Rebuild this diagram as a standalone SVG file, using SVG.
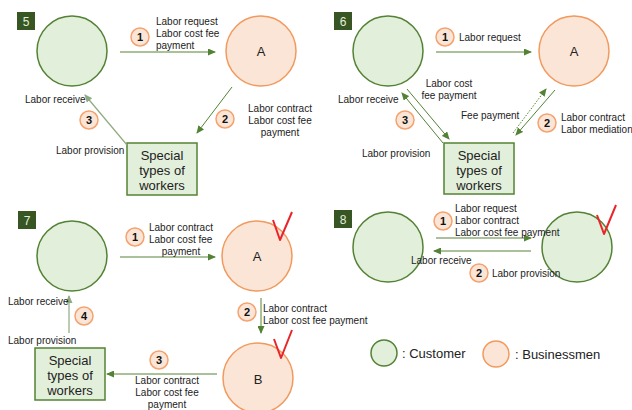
<svg xmlns="http://www.w3.org/2000/svg" width="632" height="410" viewBox="0 0 632 410">
<defs>
<marker id="ah" markerUnits="userSpaceOnUse" markerWidth="8" markerHeight="7" refX="7" refY="3.5" orient="auto"><path d="M0,0 L8,3.5 L0,7 z" fill="#548235"/></marker>
<marker id="ahl" markerUnits="userSpaceOnUse" markerWidth="8" markerHeight="7" refX="7" refY="3.5" orient="auto"><path d="M0,0 L8,3.5 L0,7 z" fill="#8faa80"/></marker>
<style>
text{font-family:"Liberation Sans",Arial,sans-serif;fill:#222}
.t{font-size:10px}
.tm{font-size:10px;text-anchor:middle}
.box{fill:#e2efda;stroke:#548235;stroke-width:1.5}
.bt{font-size:13px;text-anchor:middle}
.cust{fill:#e2efda;stroke:#548235;stroke-width:1.5}
.biz{fill:#fbe5d6;stroke:#f19a5f;stroke-width:1.5}
.nl{font-size:13px;text-anchor:middle}
.badge{fill:#375623}
.bn{font-size:12px;fill:#e2efda;text-anchor:middle}
.num{fill:#fbe5d6;stroke:#f4a36f;stroke-width:1.5}
.nt{font-size:11px;font-weight:bold;text-anchor:middle;fill:#111}
.ln{stroke:#548235;stroke-width:1;fill:none}
.ll{stroke:#8faa80;stroke-width:1.2;fill:none}
.dot{stroke:#548235;stroke-width:1;stroke-dasharray:1.5 1.5;fill:none}
.chk{stroke:#e8262a;stroke-width:2;fill:none;stroke-linejoin:round}
.lg{font-size:13px}
</style>
</defs>
<rect width="632" height="410" fill="#fff"/>

<!-- Panel 5 -->
<g id="p5-badge"><rect class="badge" x="17" y="12" width="18" height="18"/><text class="bn" x="26" y="25.5">5</text></g>
<g id="p5-customer"><circle class="cust" cx="72" cy="51" r="35"/></g>
<g id="p5-A"><circle class="biz" cx="261" cy="51" r="35"/><text class="nl" x="261" y="56">A</text></g>
<g id="p5-workers"><rect class="box" x="127" y="143" width="70" height="52"/><text class="bt" x="162" y="160">Special</text><text class="bt" x="162" y="175">types of</text><text class="bt" x="162" y="190">workers</text></g>
<g id="p5-connectors">
<line class="ln" x1="120" y1="52" x2="215" y2="52" marker-end="url(#ah)"/>
<line class="ln" x1="232" y1="87" x2="197" y2="133" marker-end="url(#ah)"/>
<line class="ll" x1="127" y1="145" x2="85" y2="95" marker-end="url(#ahl)"/>
</g>
<g id="p5-labels">
<circle class="num" cx="140" cy="37" r="9"/><text class="nt" x="140" y="41">1</text>
<text class="t" x="156" y="25">Labor request</text><text class="t" x="156" y="37">Labor cost fee</text><text class="t" x="156" y="49">payment</text>
<circle class="num" cx="225" cy="119" r="9"/><text class="nt" x="225" y="123">2</text>
<text class="tm" x="280" y="112">Labor contract</text><text class="tm" x="280" y="124">Labor cost fee</text><text class="tm" x="280" y="136">payment</text>
<circle class="num" cx="89" cy="120" r="9"/><text class="nt" x="89" y="124">3</text>
<text class="t" x="25" y="103">Labor receive</text>
<text class="t" x="56" y="154">Labor provision</text>
</g>

<!-- Panel 6 -->
<g id="p6-badge"><rect class="badge" x="334" y="12" width="18" height="18"/><text class="bn" x="343" y="25.5">6</text></g>
<g id="p6-customer"><circle class="cust" cx="388" cy="51" r="35"/></g>
<g id="p6-A"><circle class="biz" cx="574" cy="51" r="35"/><text class="nl" x="574" y="56">A</text></g>
<g id="p6-workers"><rect class="box" x="444" y="143" width="70" height="51"/><text class="bt" x="479" y="160">Special</text><text class="bt" x="479" y="175">types of</text><text class="bt" x="479" y="190">workers</text></g>
<g id="p6-connectors">
<line class="ln" x1="436" y1="52" x2="531" y2="52" marker-end="url(#ah)"/>
<line class="ln" x1="443" y1="143" x2="402" y2="93" marker-end="url(#ah)"/>
<line class="ln" x1="407" y1="89" x2="449" y2="139" marker-end="url(#ah)"/>
<line class="dot" x1="513" y1="133" x2="546" y2="89" marker-end="url(#ah)"/>
<line class="ln" x1="555" y1="90" x2="516" y2="135" marker-end="url(#ah)"/>
</g>
<g id="p6-labels">
<circle class="num" cx="445" cy="37" r="9"/><text class="nt" x="445" y="41">1</text>
<text class="t" x="459" y="41">Labor request</text>
<text class="tm" x="449" y="87">Labor cost</text><text class="tm" x="449" y="99">fee payment</text>
<text class="t" x="461" y="119">Fee payment</text>
<circle class="num" cx="547" cy="123" r="9"/><text class="nt" x="547" y="127">2</text>
<text class="t" x="561" y="121">Labor contract</text><text class="t" x="561" y="133">Labor mediation</text>
<circle class="num" cx="405" cy="120" r="9"/><text class="nt" x="405" y="124">3</text>
<text class="t" x="338" y="103">Labor receive</text>
<text class="t" x="362" y="157">Labor provision</text>
</g>

<!-- Panel 7 -->
<g id="p7-badge"><rect class="badge" x="18" y="211" width="18" height="18"/><text class="bn" x="27" y="224.5">7</text></g>
<g id="p7-customer"><circle class="cust" cx="72" cy="256" r="35"/></g>
<g id="p7-A"><circle class="biz" cx="257" cy="256" r="35"/><text class="nl" x="257" y="261">A</text><polyline class="chk" points="273,220 280,240 292,212"/></g>
<g id="p7-B"><circle class="biz" cx="258" cy="378" r="35"/><text class="nl" x="258" y="384">B</text><polyline class="chk" points="274,339 281,358 292,330"/></g>
<g id="p7-workers"><rect class="box" x="35" y="348" width="70" height="52"/><text class="bt" x="70" y="365">Special</text><text class="bt" x="70" y="380">types of</text><text class="bt" x="70" y="395">workers</text></g>
<g id="p7-connectors">
<line class="ln" x1="120" y1="257" x2="215" y2="257" marker-end="url(#ah)"/>
<line class="ln" x1="261" y1="298" x2="261" y2="333" marker-end="url(#ah)"/>
<line class="ln" x1="217" y1="374" x2="107" y2="374" marker-end="url(#ah)"/>
<line class="ll" x1="69" y1="333" x2="69" y2="296" marker-end="url(#ahl)"/>
</g>
<g id="p7-labels">
<circle class="num" cx="135" cy="237" r="9"/><text class="nt" x="135" y="241">1</text>
<text class="t" x="149" y="231">Labor contract</text><text class="t" x="149" y="243">Labor cost fee</text><text class="tm" x="181" y="255">payment</text>
<circle class="num" cx="247" cy="312" r="9"/><text class="nt" x="247" y="316">2</text>
<text class="t" x="263" y="312">Labor contract</text><text class="t" x="263" y="324">Labor cost fee payment</text>
<circle class="num" cx="159" cy="360" r="9"/><text class="nt" x="159" y="364">3</text>
<text class="tm" x="167" y="384">Labor contract</text><text class="tm" x="167" y="396">Labor cost fee</text><text class="tm" x="167" y="408">payment</text>
<circle class="num" cx="84" cy="316" r="9"/><text class="nt" x="84" y="320">4</text>
<text class="t" x="8" y="305">Labor receive</text>
<text class="t" x="8" y="344">Labor provision</text>
</g>

<!-- Panel 8 -->
<g id="p8-badge"><rect class="badge" x="334" y="210" width="18" height="18"/><text class="bn" x="343" y="223.5">8</text></g>
<g id="p8-customer1"><circle class="cust" cx="388" cy="247" r="35"/></g>
<g id="p8-customer2"><circle class="cust" cx="577" cy="247" r="35"/><polyline class="chk" points="597,215 604,234 616,205"/></g>
<g id="p8-connectors">
<line class="ln" x1="436" y1="238" x2="531" y2="238" marker-end="url(#ah)"/>
<line class="ln" x1="531" y1="251" x2="434" y2="251" marker-end="url(#ah)"/>
</g>
<g id="p8-labels">
<circle class="num" cx="443" cy="221" r="9"/><text class="nt" x="443" y="225">1</text>
<text class="t" x="455" y="212">Labor request</text><text class="t" x="455" y="224">Labor contract</text><text class="t" x="455" y="236">Labor cost fee payment</text>
<text class="t" x="411" y="264">Labor receive</text>
<circle class="num" cx="479" cy="273" r="9"/><text class="nt" x="479" y="277">2</text>
<text class="t" x="492" y="277">Labor provision</text>
</g>

<!-- Legend -->
<g id="legend-customer"><circle class="cust" cx="384" cy="353" r="13"/><text class="lg" x="402" y="358">: Customer</text></g>
<g id="legend-businessmen"><circle class="biz" cx="496" cy="354" r="13"/><text class="lg" x="515" y="359">: Businessmen</text></g>
</svg>
